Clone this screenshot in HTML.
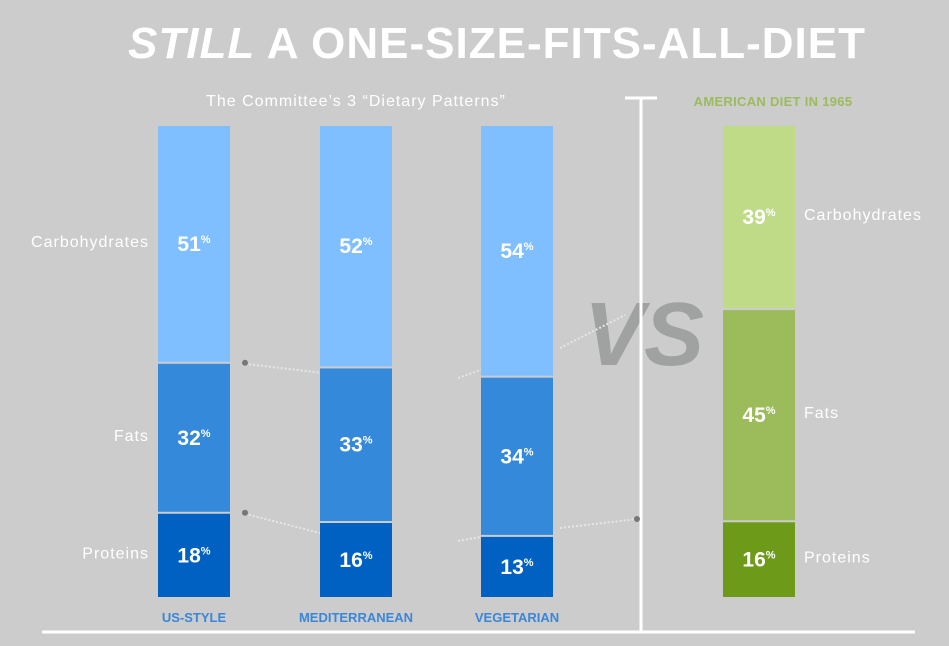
<!DOCTYPE html>
<html><head><meta charset="utf-8"><style>
body{margin:0;background:#cccccc;}
svg{display:block;font-family:"Liberation Sans",sans-serif;}
</style></head><body>
<svg id="c" width="949" height="646">
<rect width="949" height="646" fill="#cccccc"/>
<text x="497" y="58" text-anchor="middle" font-size="44" font-weight="bold" letter-spacing="1" fill="#fff"><tspan font-style="italic">STILL</tspan> A ONE-SIZE-FITS-ALL-DIET</text>
<text x="356" y="106" text-anchor="middle" font-size="16" letter-spacing="1" fill="#fff">The Committee’s 3 “Dietary Patterns”</text>
<text x="773" y="106" text-anchor="middle" font-size="13" font-weight="bold" letter-spacing="0.3" fill="#9cbb5a">AMERICAN DIET IN 1965</text>
<text x="644" y="365" text-anchor="middle" font-size="90" font-weight="bold" font-style="italic" fill="#a0a1a1">VS</text>
<line x1="641" y1="98" x2="641" y2="632" stroke="#fff" stroke-width="3"/>
<line x1="625" y1="98" x2="657" y2="98" stroke="#fff" stroke-width="3"/>
<line x1="42" y1="632" x2="915" y2="632" stroke="#fff" stroke-width="3"/>
<g id="conn" stroke="#e6e6e6" stroke-width="2" stroke-dasharray="2,2" fill="none"></g>
<g id="bars"></g>
</svg>
<script>
const categories=["US-STYLE","MEDITERRANEAN","VEGETARIAN","AMERICAN 1965"];
const carbs=[51,52,54,39];
const fats=[32,33,34,45];
const proteins=[18,16,13,16];
const NS="http://www.w3.org/2000/svg";
const g=document.getElementById('bars'),cg=document.getElementById('conn');
const barX=[158,320,481,723],barW=72,top0=126,bot=597,gap=2;
function el(t,a,p){const e=document.createElementNS(NS,t);for(const k in a)e.setAttribute(k,a[k]);(p||g).appendChild(e);return e;}
const blue=["#80bfff","#3589db","#0061c2"],green=["#c0db88","#9cbb5a","#6e9a1a"];
const segs=[];
categories.forEach((c,i)=>{
  const vals=[carbs[i],fats[i],proteins[i]],tot=vals.reduce((a,b)=>a+b,0);
  const h=bot-top0-2*gap;let y=top0;const cols=i===3?green:blue;const names=["carbs","fats","proteins"];
  const bs=[];
  vals.forEach((v,j)=>{
    const sh=v/tot*h;
    const r=el('rect',{x:barX[i],y:y,width:barW,height:sh,fill:cols[j]});
    
    
    const t=el('text',{x:barX[i]+barW/2,y:y+sh/2+7,'text-anchor':'middle','font-size':21,'font-weight':'bold',fill:'#fff'});
    
    
    t.innerHTML=v+'<tspan font-size="11" dy="-8">%</tspan>';
    bs.push(y);y+=sh+gap;
  });
  segs.push(bs);
  if(i<3){const t=el('text',{x:barX[i]+barW/2,y:622,'text-anchor':'middle','font-size':13,'font-weight':'bold',fill:'#3a86d8'});
    
    
    t.textContent=c;}
});
function mid(i,j){const b=segs[i];const ends=[b[1]-gap,b[2]-gap,bot];return (b[j]+ends[j])/2;}
[["Carbohydrates",0],["Fats",1],["Proteins",2]].forEach(([n,j])=>{
  const l=el('text',{x:149,y:mid(0,j)+3,'text-anchor':'end','font-size':16,'letter-spacing':1,fill:'#fff'});
  
  
  l.textContent=n;
  const r=el('text',{x:804,y:mid(3,j)+3,'font-size':16,'letter-spacing':1,fill:'#fff'});
  
  
  r.textContent=n;
});
function ln(x1,y1,x2,y2){const l=el('line',{x1,y1,x2,y2},cg);}
function dot(x,y){const d=el('circle',{cx:x,cy:y,r:3,fill:'#777'});}
ln(245,segs[0][1],335,segs[1][1]+6);ln(245,segs[0][2],320,segs[1][2]+10);
ln(458,378,481,segs[2][1]-8);ln(458,541,481,segs[2][2]);
ln(560,348,625,315);ln(560,528,637,519);
dot(245,segs[0][1]-1);dot(245,segs[0][2]-1);dot(637,519);
</script>
</body></html>
